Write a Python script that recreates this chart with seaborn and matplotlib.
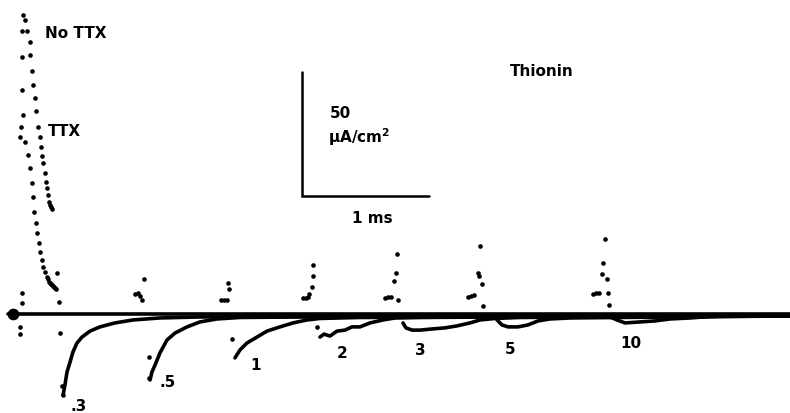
import matplotlib
matplotlib.use("Agg")
import matplotlib.pyplot as plt
import seaborn as sns
import pandas as pd

# ---------------- data (time in ms, current in uA/cm^2) ----------------
nottx_t = [0.024, 0.016, 0.016, 0.016, 0.024, 0.008, 0.0, 0.039, 0.063, 0.079, 0.094, 0.102,
           0.110, 0.126, 0.134, 0.150, 0.157, 0.173, 0.181, 0.197, 0.213, 0.220, 0.228, 0.236,
           0.244, 0.252, 0.260, 0.268, 0.276, 0.283]
nottx_i = [120.6, 114.1, 103.6, 90.3, 80.2, 75.4, 71.4, 69.4, 64.1, 58.9, 52.8, 47.2,
           41.1, 36.7, 32.7, 28.6, 25.0, 21.8, 19.0, 16.9, 14.9, 14.0, 12.9, 12.3,
           11.9, 11.7, 11.3, 10.9, 10.5, 10.1]

ttx_t = [0.039, 0.055, 0.079, 0.079, 0.094, 0.102, 0.118, 0.126, 0.142, 0.157, 0.165, 0.173,
         0.181, 0.197, 0.205, 0.213, 0.220, 0.228, 0.236, 0.244, 0.252]
ttx_i = [118.5, 114.1, 109.7, 104.4, 98.0, 92.3, 87.1, 81.9, 75.4, 71.4, 67.3, 63.7,
         60.9, 56.9, 53.2, 50.8, 48.0, 45.2, 44.0, 43.1, 42.3]

onset_t = [0.016, 0.016, 0.0, 0.0]
onset_i = [8.5, 4.4, -5.2, -8.1]

intervals = [".3", ".5", "1", "2", "3", "5", "10"]

# second-pulse ON transients (dots above baseline)
spike_t = {
    ".3": [0.291, 0.307],
    ".5": [0.976, 0.906, 0.929, 0.945, 0.961],
    "1": [1.638, 1.646, 1.583, 1.606, 1.630],
    "2": [2.307, 2.307, 2.299, 2.276, 2.228, 2.252, 2.268],
    "3": [2.969, 2.961, 2.945, 2.976, 2.874, 2.898, 2.921],
    "5": [3.622, 3.606, 3.614, 3.638, 3.646, 3.528, 3.551, 3.575],
    "10": [4.606, 4.591, 4.583, 4.622, 4.630, 4.512, 4.535, 4.559, 4.638],
}
spike_i = {
    ".3": [16.5, 4.8],
    ".5": [14.1, 8.1, 8.5, 7.3, 5.6],
    "1": [12.5, 10.1, 5.6, 5.6, 5.6],
    "2": [19.8, 15.3, 10.9, 8.1, 6.5, 6.5, 6.9],
    "3": [24.2, 16.5, 13.3, 5.6, 6.5, 6.9, 6.9],
    "5": [27.4, 16.5, 15.3, 12.1, 3.2, 6.9, 7.3, 7.7],
    "10": [30.2, 20.6, 16.1, 14.1, 8.5, 8.1, 8.5, 8.5, 3.6],
}

# isolated leading dots of the OFF transients
lead_t = {".3": [0.315, 0.331, 0.339], ".5": [1.016, 1.016], "1": [1.669], "2": [2.339]}
lead_i = {".3": [-7.7, -29.0, -32.7], ".5": [-17.3, -26.0], "1": [-10.1], "2": [-5.2]}

# second-pulse OFF transients (traces below baseline)
rec_t = {
    ".3": [0.339, 0.354, 0.370, 0.394, 0.417, 0.449, 0.488, 0.551, 0.630, 0.748, 0.890, 1.102,
           1.417, 2.205, 3.780, 6.063],
    ".5": [1.024, 1.039, 1.063, 1.102, 1.157, 1.220, 1.315, 1.417, 1.551, 1.732, 2.205, 3.780, 6.063],
    "1": [1.693, 1.732, 1.787, 1.866, 1.945, 2.047, 2.150, 2.260, 2.362, 2.677, 3.780, 6.063],
    "2": [2.362, 2.394, 2.441, 2.496, 2.559, 2.614, 2.677, 2.756, 2.858, 2.953, 3.150, 3.780, 6.063],
    "3": [3.016, 3.039, 3.087, 3.150, 3.252, 3.346, 3.441, 3.543, 3.622, 3.740, 3.937, 4.567, 6.063],
    "5": [3.756, 3.795, 3.843, 3.921, 4.000, 4.079, 4.173, 4.331, 4.724, 6.063],
    "10": [4.646, 4.701, 4.764, 4.882, 5.000, 5.118, 5.276, 5.433, 5.669, 6.063],
}
rec_i = {
    ".3": [-32.7, -28.6, -23.4, -19.4, -15.3, -11.7, -9.3, -6.9, -5.2, -3.6, -2.4, -1.6,
           -1.2, -1.0, -0.8, -0.6],
    ".5": [-26.6, -23.4, -20.6, -15.7, -10.5, -7.7, -5.2, -3.2, -2.0, -1.4, -1.2, -1.0, -0.6],
    "1": [-17.7, -14.5, -11.7, -9.3, -6.9, -5.2, -3.6, -2.4, -1.8, -1.4, -1.2, -0.8],
    "2": [-9.3, -8.1, -8.9, -6.9, -6.5, -5.2, -5.2, -3.6, -2.4, -1.6, -1.4, -1.2, -0.8],
    "3": [-3.6, -5.6, -6.5, -6.5, -6.0, -5.6, -4.8, -3.6, -2.4, -1.8, -1.4, -1.2, -0.8],
    "5": [-2.4, -4.4, -5.2, -5.2, -4.4, -2.8, -2.0, -1.6, -1.4, -0.8],
    "10": [-1.2, -2.4, -3.6, -3.2, -2.8, -2.0, -1.6, -1.0, -0.6, -0.4],
}

# label anchor for each interval (left, baseline)
label_t = [0.394, 1.102, 1.811, 2.496, 3.110, 3.819, 4.724]
label_i = [-39.3, -29.4, -22.6, -17.7, -16.5, -16.1, -13.7]

baseline_t = [-0.094, 6.063]
scale_origin = (2.22, 47.6)
scale_ms = 1.0
scale_ua = 50.0

# ---------------- build frames ----------------
rec_df = pd.concat([pd.DataFrame({"t": rec_t[k], "I": rec_i[k], "interval": k}) for k in intervals])
dots = [pd.DataFrame({"t": nottx_t, "I": nottx_i, "trace": "No TTX"}),
        pd.DataFrame({"t": ttx_t, "I": ttx_i, "trace": "TTX"}),
        pd.DataFrame({"t": onset_t, "I": onset_i, "trace": "onset"})]
dots += [pd.DataFrame({"t": spike_t[k], "I": spike_i[k], "trace": "on " + k}) for k in intervals]
dots += [pd.DataFrame({"t": lead_t[k], "I": lead_i[k], "trace": "lead " + k}) for k in lead_t]
dot_df = pd.concat(dots)

# ---------------- plot ----------------
sns.set_style("white")
plt.rcParams["font.family"] = ["DejaVu Sans"]
plt.rcParams["mathtext.default"] = "bf"
fig = plt.figure(figsize=(7.9, 4.13), dpi=100)
ax = fig.add_axes([0, 0, 1, 1])
ax.set_xlim(-20 / 127, 770 / 127)
ax.set_ylim(-39.92, 126.61)
ax.axis("off")

# baseline
sns.lineplot(x=baseline_t, y=[0, 0], ax=ax, color="black", lw=2.6, legend=False)
ax.scatter([baseline_t[0] + 0.04], [0], s=55, color="black", zorder=3)

# OFF transient traces
sns.lineplot(data=rec_df, x="t", y="I", hue="interval", units="interval", estimator=None,
             sort=False, palette=["black"] * len(intervals), lw=2.6, legend=False, ax=ax)

# dotted traces
sns.scatterplot(data=dot_df, x="t", y="I", color="black", s=11, linewidth=0, legend=False, ax=ax)

# scale bar
x0, y0 = scale_origin
ax.plot([x0, x0, x0 + scale_ms], [y0 + scale_ua, y0, y0], color="black", lw=1.8,
        solid_joinstyle="miter")

tkw = dict(fontsize=11, fontweight="bold", color="black", ha="left", va="baseline")
ax.text(0.197, 111.3, "No TTX", **tkw)
ax.text(0.220, 71.8, "TTX", **tkw)
ax.text(3.858, 96.0, "Thionin", **tkw)
ax.text(2.441, 79.0, "50", **tkw)
ax.text(2.425, 69.0, "µA/cm$^{2}$", **tkw)
ax.text(2.614, 36.7, "1 ms", **tkw)
for lab, lt, li in zip(intervals, label_t, label_i):
    ax.text(lt, li, lab, **tkw)

fig.savefig("out.png", dpi=100, facecolor="white")
